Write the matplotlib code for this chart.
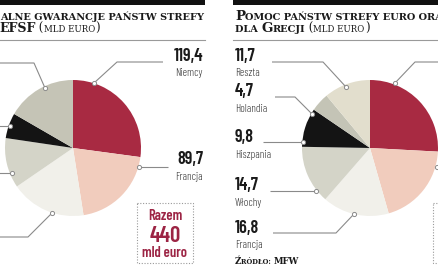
import matplotlib
matplotlib.use('Agg')
import matplotlib.pyplot as plt
from matplotlib.patches import Rectangle

W, H = 439, 268

# left pie: EFSF guarantees (mld euro), clockwise from 12 o'clock
left_names = ['Niemcy', 'Francja', 'Włochy', 'Hiszpania', 'Holandia', 'Reszta']
left_values = [119.4, 89.7, 78.8, 52.4, 26.4, 73.3]
left_colors = ['#a82a42', '#f1ccbd', '#f1f0ea', '#d4d4c8', '#141414', '#c5c4b6']
left_total = '440'

# right pie: help for Greece (mld euro)
right_names = ['Niemcy', 'MFW', 'Francja', 'Włochy', 'Hiszpania', 'Holandia', 'Reszta']
right_values = [27.4, 20.9, 16.8, 14.7, 9.8, 4.7, 11.7]
right_colors = ['#a82a42', '#f1ccbd', '#f1f0ea', '#d4d4c8', '#141414', '#c4c4b6', '#e2decd']
right_total = '110'

NUM_FONT = ['Barlow Condensed', 'DejaVu Sans']
TITLE_FONT = ['DejaVu Serif']
RED = '#9c2444'
LINE = '#8a8a8a'

fig = plt.figure(figsize=(W / 100, H / 100), dpi=100)
fig.patch.set_facecolor('white')


def pie_axes(cx, cy, r, values, colors):
    ax = fig.add_axes([(cx - r) / W, 1 - (cy + r) / H, 2 * r / W, 2 * r / H])
    ax.pie(values, colors=colors, startangle=90, counterclock=False,
           radius=1, wedgeprops=dict(linewidth=0))
    ax.set_xlim(-1, 1)
    ax.set_ylim(-1, 1)
    ax.axis('off')
    return ax


pie_axes(73, 148, 68, left_values, left_colors)
pie_axes(370, 148, 68, right_values, right_colors)

ov = fig.add_axes([0, 0, 1, 1])
ov.set_xlim(0, W)
ov.set_ylim(H, 0)
ov.axis('off')
ov.patch.set_alpha(0)

fig.canvas.draw()
renderer = fig.canvas.get_renderer()


def runs(x, y, parts, color='#1a1a1a', family=TITLE_FONT):
    # draw text pieces one after another on a common baseline
    for txt, size, weight in parts:
        t = ov.text(x, y, txt, fontsize=size, fontweight=weight, color=color,
                    family=family, va='baseline', ha='left')
        bb = t.get_window_extent(renderer)
        x += bb.width


# header bars and rules
for x0, x1 in [(0, 205), (233, W)]:
    ov.add_patch(Rectangle((x0, 0), x1 - x0, 4.5, color='#111111', lw=0))
    ov.plot([x0, x1], [40, 40], color='#9a9a9a', lw=0.8)

BIG, SMALL = 9.6, 7.0
runs(0, 20, [('ALNE GWARANCJE PAŃSTW STREFY', SMALL, 'bold')])
runs(-1, 32, [('EFSF', 9.0, 'bold'), (' (', 8.4, 'normal'), ('MLD EURO', 6.2, 'normal'),
              (')', 8.4, 'normal')])
runs(235, 20, [('P', BIG, 'bold'), ('OMOC PAŃSTW STREFY EURO ORAZ MFW', SMALL, 'bold')])
runs(235, 32, [('DLA ', SMALL, 'bold'), ('G', BIG, 'bold'), ('RECJI', SMALL, 'bold'),
               (' (', 8.4, 'normal'), ('MLD EURO', 6.2, 'normal'), (')', 8.4, 'normal')])
runs(235, 264, [('Ź', 6.2, 'bold'), ('RÓDŁO: ', 4.8, 'bold'), ('MFW', 6.2, 'bold')])


def leader(pts):
    xs = [p[0] for p in pts]
    ys = [p[1] for p in pts]
    ov.plot(xs, ys, color=LINE, lw=0.8, solid_capstyle='butt')
    ov.plot(xs[0], ys[0], 'o', ms=3, mfc='white', mec=LINE, mew=0.7)


def label(x, y, num, name, ha):
    ov.text(x, y, num, fontsize=13, fontweight=600, color='#1a1a1a',
            family=NUM_FONT, ha=ha, va='baseline')
    ov.text(x, y + 15.5, name, fontsize=8, fontweight=300, color='#3a3a3a',
            family=NUM_FONT, ha=ha, va='baseline')


# left pie labels
leader([(94, 83), (117, 62), (163, 62)])
label(203, 61, '119,4', left_names[0], 'right')
leader([(139, 167), (168, 167)])
label(203, 164, '89,7', left_names[1], 'right')
leader([(52, 213), (28, 237), (-2, 237)])
leader([(12, 173), (-2, 173)])
leader([(10, 126), (-2, 126)])
leader([(45, 88), (34, 63), (-2, 63)])

# right pie labels
leader([(346, 87), (323, 62), (272, 62)])
label(235, 61, '11,7', right_names[6], 'left')
leader([(312, 114), (295, 97), (275, 97)])
label(235, 96, '4,7', right_names[5], 'left')
leader([(303, 142), (263, 142)])
label(235, 142, '9,8', right_names[4], 'left')
leader([(316, 191), (270, 191)])
label(235, 190, '14,7', right_names[3], 'left')
leader([(354, 214), (336, 233), (273, 233)])
label(235, 233, '16,8', right_names[2], 'left')
leader([(395, 83), (415, 62), (445, 62)])
leader([(437, 167), (445, 167)])


def total_box(x0, total):
    ov.add_patch(Rectangle((x0, 203), 56, 60, fill=False, ec='#9a9a9a',
                           lw=0.8, ls=(0, (1, 1.5))))
    cx = x0 + 28
    ov.text(cx, 220, 'Razem', fontsize=10.5, fontweight=600, color=RED,
            family=NUM_FONT, ha='center', va='baseline')
    ov.text(cx, 241.5, total, fontsize=16.5, fontweight=600, color=RED,
            family=NUM_FONT, ha='center', va='baseline')
    ov.text(cx, 257, 'mld euro', fontsize=10.5, fontweight=600, color=RED,
            family=NUM_FONT, ha='center', va='baseline')


total_box(137, left_total)
total_box(433, right_total)

fig.savefig('out.png', dpi=100)
